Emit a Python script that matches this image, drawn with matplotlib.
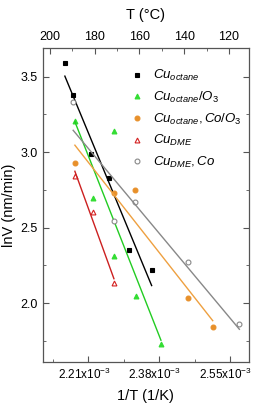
import numpy as np
import matplotlib
matplotlib.use('Agg')
import matplotlib.pyplot as plt
from matplotlib.ticker import MultipleLocator, FixedLocator
from matplotlib.transforms import ScaledTranslation

plt.rcParams['font.family'] = ['Liberation Sans', 'DejaVu Sans']
plt.rcParams['mathtext.fontset'] = 'custom'
plt.rcParams['mathtext.it'] = 'Liberation Sans:italic'
plt.rcParams['mathtext.rm'] = 'Liberation Sans'

# 1/T values in units of 1e-3 1/K, lnV values
cu_oct_x = [2.1541, 2.1740, 2.2158, 2.2604, 2.3077, 2.3621]
cu_oct_y = [3.588, 3.376, 2.989, 2.826, 2.355, 2.222]

cu_oct_o3_x = [2.1781, 2.2717, 2.2213, 2.2717, 2.3237, 2.3844]
cu_oct_o3_y = [3.204, 3.139, 2.698, 2.310, 2.045, 1.729]

cu_oct_co_o3_x = [2.1781, 2.2717, 2.3228, 2.4485, 2.5085]
cu_oct_co_o3_y = [2.930, 2.731, 2.746, 2.032, 1.840]

cu_dme_x = [2.1781, 2.2213, 2.2717]
cu_dme_y = [2.841, 2.605, 2.134]

cu_dme_co_x = [2.1740, 2.2717, 2.3228, 2.4485, 2.5724]
cu_dme_co_y = [3.332, 2.542, 2.671, 2.275, 1.862]

x_ticks = [2.21, 2.38, 2.55]
t_ticks = [200, 180, 160, 140, 120]

series = [
    (cu_oct_x, cu_oct_y, r'$Cu_{octane}$', 's', 'black', 'black', 'black'),
    (cu_oct_o3_x, cu_oct_o3_y, r'$Cu_{octane}/O_3$', '^', '#33dd33', '#33dd33', '#22cc22'),
    (cu_oct_co_o3_x, cu_oct_co_o3_y, r'$Cu_{octane}, Co/O_3$', 'o', '#e8902a', '#e8902a', '#eea040'),
    (cu_dme_x, cu_dme_y, r'$Cu_{DME}$', '^', 'white', '#d42020', '#cc2020'),
    (cu_dme_co_x, cu_dme_co_y, r'$Cu_{DME}, Co$', 'o', 'white', '#888888', '#888888'),
]

fig = plt.figure(figsize=(2.55, 4.03), dpi=100)
ax = fig.add_axes([0.1675, 0.1017, 0.809, 0.7793])

for xs, ys, lab, mk, fc, ec, lc in series:
    xs = np.array(xs)
    ys = np.array(ys)
    ax.plot(xs, ys, linestyle='none', marker=mk, ms=3.5, mfc=fc, mec=ec,
            mew=0.8, label=lab)
    k, b = np.polyfit(xs, ys, 1)
    xf = np.array([xs.min(), xs.max()])
    ax.plot(xf, k * xf + b, color=lc, lw=1.0)

ax.set_xlim(2.101, 2.5955)
ax.set_ylim(1.61, 3.69)
ax.xaxis.set_major_locator(FixedLocator(x_ticks))
ax.set_xticklabels([r'%.2fx10$^{\mathregular{-3}}$' % v for v in x_ticks])
ax.xaxis.set_minor_locator(MultipleLocator(0.085))
ax.yaxis.set_major_locator(MultipleLocator(0.5))
ax.yaxis.set_minor_locator(MultipleLocator(0.25))
ax.yaxis.set_major_formatter(matplotlib.ticker.FormatStrFormatter('%.1f'))
ax.tick_params(which='both', direction='in', right=True, labelsize=9,
               color='#555555')
ax.tick_params(axis='x', labelsize=8.5)
ax.tick_params(which='major', length=4)
ax.tick_params(which='minor', length=2)
shift = ScaledTranslation(-3 / 72, 0, fig.dpi_scale_trans)
for t in ax.get_xticklabels():
    t.set_transform(t.get_transform() + shift)
for s in ax.spines.values():
    s.set_color('#555555')
    s.set_linewidth(0.9)

ax.set_xlabel('1/T (1/K)', fontsize=10.5, labelpad=5)
ax.set_ylabel('lnV (nm/min)', fontsize=10.5, labelpad=3)

# top axis in deg C (linear, as in the original)
top = ax.twiny()
top.set_xlim(203.1, 111.1)
top.xaxis.set_major_locator(FixedLocator(t_ticks))
top.xaxis.set_minor_locator(MultipleLocator(10))
top.tick_params(which='both', direction='in', labelsize=9, color='#555555')
top.tick_params(which='major', length=4)
top.tick_params(which='minor', length=2)
top.set_xlabel('T (\u00b0C)', fontsize=10.5, labelpad=9)
for s in top.spines.values():
    s.set_visible(False)

leg = ax.legend(loc='upper right', bbox_to_anchor=(1.01, 0.965), frameon=False,
                fontsize=9.5, handlelength=0.8, handletextpad=0.8,
                labelspacing=0.5, borderaxespad=0.3)

fig.savefig('out.png', dpi=100)
